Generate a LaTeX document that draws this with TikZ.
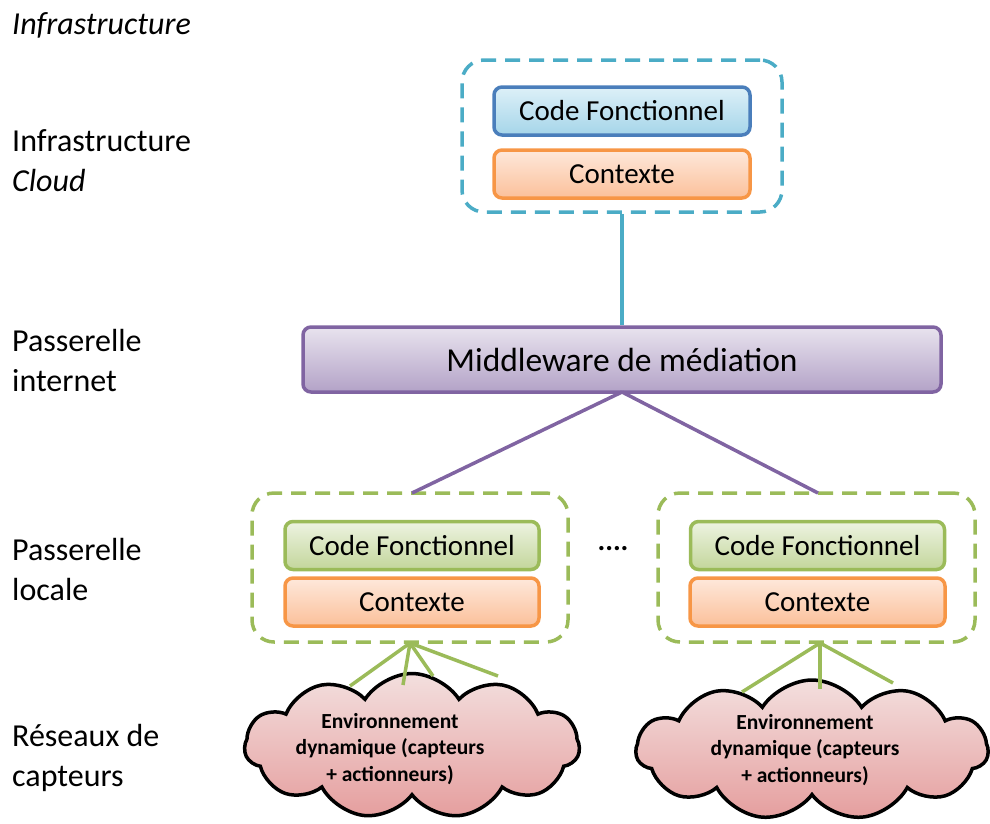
\documentclass[tikz,border=0pt]{standalone}
\usepackage{fontspec}
\setmainfont{Carlito}
\usetikzlibrary{shapes.symbols}
\definecolor{teal}{HTML}{4BACC6}
\definecolor{blueb}{HTML}{4A7EBB}
\definecolor{bluet}{HTML}{DDF0F8}
\definecolor{blueu}{HTML}{A5D5E9}
\definecolor{orab}{HTML}{F79646}
\definecolor{orat}{HTML}{FEE8DB}
\definecolor{orau}{HTML}{FBC09A}
\definecolor{purb}{HTML}{8064A2}
\definecolor{purt}{HTML}{E8E3EE}
\definecolor{puru}{HTML}{B3A2C7}
\definecolor{grnb}{HTML}{9BBB59}
\definecolor{grnt}{HTML}{EDF3E1}
\definecolor{grnu}{HTML}{C3D69B}
\definecolor{cldt}{HTML}{F3DFDE}
\definecolor{cldu}{HTML}{E59E9E}
\tikzset{
  lbl/.style={anchor=west, align=left, font=\fontsize{32}{40}\selectfont, inner sep=0pt},
  boxbase/.style={draw, line width=3.5pt, rounded corners=8pt, font=\fontsize{29}{34}\selectfont, inner sep=0pt},
  codeblue/.style={boxbase, draw=blueb, top color=bluet, bottom color=blueu, minimum width=256pt, minimum height=48pt},
  codegreen/.style={boxbase, draw=grnb, top color=grnt, bottom color=grnu, minimum width=254pt, minimum height=48pt},
  ctx/.style={boxbase, draw=orab, top color=orat, bottom color=orau, minimum height=48pt},
  grp/.style={draw, line width=3.5pt, dash pattern=on 15pt off 9pt, rounded corners=22pt, inner sep=0pt},
  conn/.style={line width=3.5pt},
  cloudbox/.style={cloud, cloud puffs=11, cloud puff arc=115, aspect=2.4, draw=black, line width=3.5pt, top color=cldt, bottom color=cldu, inner sep=0pt},
  cloudtxt/.style={align=center, font=\bfseries\fontsize{21.5}{26.5}\selectfont, inner sep=0pt},
}
\begin{document}
\begin{tikzpicture}[x=1pt,y=-1pt]
\useasboundingbox (0,0) rectangle (990,823);
% left labels
\node[lbl] (l1) at (12,25) {\itshape Infrastructure};
\node[lbl] (l2) at (12,161) {Infrastructure\\\itshape Cloud};
\node[lbl] (l3) at (12,360) {Passerelle\\internet};
\node[lbl] (l4) at (12,569) {Passerelle\\locale};
\node[lbl] (l5) at (12,758) {Réseaux de\\capteurs};
% top cloud group
\node[grp, draw=teal, minimum width=320pt, minimum height=152pt] (gtop) at (622,136) {};
\node[codeblue] (cftop) at (622,111) {Code Fonctionnel};
\node[ctx, minimum width=256pt] (cxtop) at (622,174) {Contexte};
% middleware
\node[boxbase, draw=purb, top color=purt, bottom color=puru, minimum width=638pt, minimum height=65pt, font=\fontsize{33.5}{38}\selectfont] (mw) at (622,359.5) {Middleware de médiation};
\draw[conn, teal] (gtop.south) -- (mw.north);
% local groups
\node[grp, draw=grnb, minimum width=316pt, minimum height=149pt] (gl) at (410,567.5) {};
\node[codegreen] (cfl) at (412,545.5) {Code Fonctionnel};
\node[ctx, minimum width=254pt] (cxl) at (412,602) {Contexte};
\node[grp, draw=grnb, minimum width=317pt, minimum height=149pt] (gr) at (816.5,567.5) {};
\node[codegreen] (cfr) at (817.5,545.5) {Code Fonctionnel};
\node[ctx, minimum width=255pt] (cxr) at (817.5,602) {Contexte};
\node[font=\bfseries\fontsize{29}{34}\selectfont, inner sep=0pt] (dots) at (613,549) {....};
\coordinate (mwb) at (622,392);
\coordinate (glt) at (412,493);
\coordinate (grt) at (818,493);
\draw[conn, purb] (mwb) -- (glt);
\draw[conn, purb] (mwb) -- (grt);
% clouds
\node[cloudbox, minimum width=335pt, minimum height=145pt] (cl) at (412,746) {};
\node[cloudtxt] (clt) at (390,749) {Environnement\\dynamique (capteurs\\+ actionneurs)};
\node[cloudbox, minimum width=352pt, minimum height=140pt] (cr) at (812,750) {};
\node[cloudtxt] (crt) at (805,750) {Environnement\\dynamique (capteurs\\+ actionneurs)};
% green connectors
\coordinate (glb) at (410,643);
\coordinate (grb) at (820,643);
\coordinate (a1) at (350,686);
\coordinate (a2) at (403,685);
\coordinate (a3) at (433,676);
\coordinate (a4) at (498,676);
\coordinate (b1) at (742,692);
\coordinate (b2) at (820,689);
\coordinate (b3) at (893,683);
\foreach \p in {a1,a2,a3,a4} \draw[conn, grnb] (glb) -- (\p);
\foreach \p in {b1,b2,b3} \draw[conn, grnb] (grb) -- (\p);
\end{tikzpicture}
\end{document}
